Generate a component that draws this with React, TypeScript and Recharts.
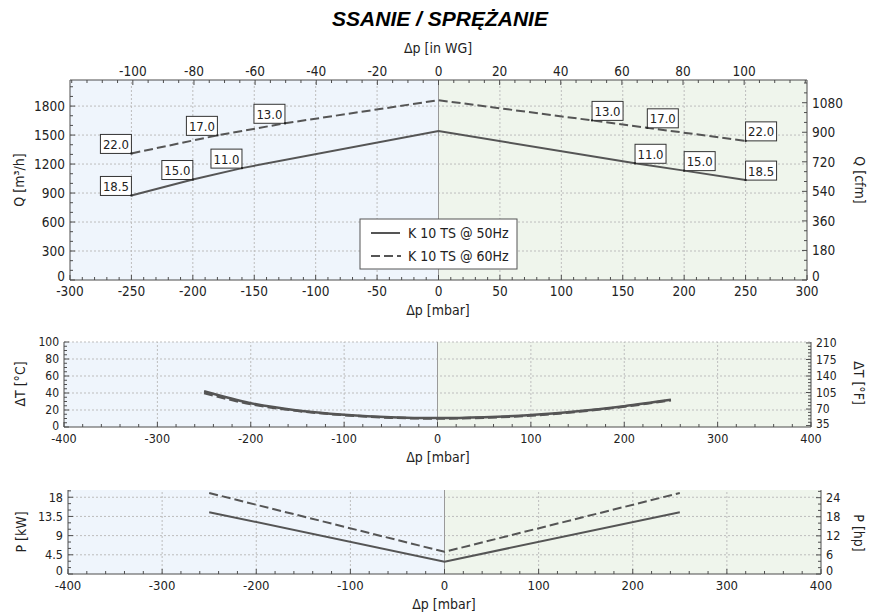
import React from 'react';
import { LineChart, Line, XAxis, YAxis, ReferenceArea, ReferenceLine, LabelList } from 'recharts';

// Q [m3/h] over Δp [mbar]; kw = motor power label
const q50 = [
  { x: -250, q: 875, kw: '18.5' },
  { x: -200, q: 1040, kw: '15.0' },
  { x: -160, q: 1158, kw: '11.0' },
  { x: 0, q: 1541 },
  { x: 160, q: 1208, kw: '11.0' },
  { x: 200, q: 1132, kw: '15.0' },
  { x: 250, q: 1034, kw: '18.5' },
];
const q60 = [
  { x: -250, q: 1310, kw: '22.0' },
  { x: -180, q: 1497, kw: '17.0' },
  { x: -125, q: 1622, kw: '13.0' },
  { x: 0, q: 1861 },
  { x: 125, q: 1652, kw: '13.0' },
  { x: 170, q: 1575, kw: '17.0' },
  { x: 250, q: 1440, kw: '22.0' },
];

// ΔT [°C]
const t50 = [
  { x: -250, t: 42 }, { x: -200, t: 28 }, { x: -150, t: 19.5 }, { x: -100, t: 14.5 },
  { x: -50, t: 11.5 }, { x: 0, t: 10.5 }, { x: 50, t: 11.5 }, { x: 100, t: 14 },
  { x: 150, t: 18.5 }, { x: 200, t: 24.5 }, { x: 250, t: 32 },
];
const t60 = [
  { x: -250, t: 40 }, { x: -200, t: 27 }, { x: -150, t: 19 }, { x: -100, t: 14 },
  { x: -50, t: 11 }, { x: 0, t: 10 }, { x: 50, t: 11 }, { x: 100, t: 13.5 },
  { x: 150, t: 18 }, { x: 200, t: 24 }, { x: 250, t: 31.5 },
];

// P [kW]
const p50 = [{ x: -250, p: 14.5 }, { x: 0, p: 2.9 }, { x: 250, p: 14.5 }];
const p60 = [{ x: -250, p: 19 }, { x: 0, p: 5.2 }, { x: 250, p: 19 }];

const seriesNames = ['K 10 TS @ 50Hz', 'K 10 TS @ 60Hz'];

// major tick labels
const mbarMajor = [-300, -250, -200, -150, -100, -50, 0, 50, 100, 150, 200, 250, 300];
const wgMajor = [-100, -80, -60, -40, -20, 0, 20, 40, 60, 80, 100];
const qMajor = [0, 300, 600, 900, 1200, 1500, 1800];
const cfmMajor = [0, 180, 360, 540, 720, 900, 1080];
const wideMajor = [-400, -300, -200, -100, 0, 100, 200, 300, 400];
const tMajor = [0, 20, 40, 60, 80, 100];
const fMajor = [35, 70, 105, 140, 175, 210];
const pMajor = [0, 4.5, 9, 13.5, 18];
const hpMajor = [0, 6, 12, 18, 24];

const MBAR_PER_INWG = 2.4884;
const M3H_PER_CFM = 1.699;
const KW_PER_HP = 0.7457;
const Q_MAX = 2070;
const P_MAX = 19.7;

const FONT = "'DejaVu Sans Condensed', 'DejaVu Sans', sans-serif";
const AXIS = '#4d4d4d';
const LINE = '#555';
const GRID = '#bdbdbd';
const BLUE = '#eff5fc';
const GREEN = '#eff5ec';

const steps = (lo: number, hi: number, step: number) => {
  const out: number[] = [];
  for (let i = 0; lo + i * step <= hi + 1e-9; i++) out.push(Math.round((lo + i * step) * 1000) / 1000);
  return out;
};

// inward tick marks, labels only on major values
const axisTick = (side: string, major: number[], fs: number, lowDy = 1) =>
  (props: any) => {
    const { x, y, payload } = props;
    const v = payload.value;
    const isMajor = major.some((m) => Math.abs(m - v) < 1e-6);
    const len = isMajor ? 5 : 3;
    // lowest y label sits a little higher, clear of the x labels below it
    const dy = Math.abs(v - major[0]) < 1e-6 ? lowDy : fs * 0.36;
    let tl: any;
    let tx: any = null;
    const ts = { fontSize: fs, fontFamily: FONT, fill: '#222' };
    if (side === 'bottom') {
      tl = <line x1={x} y1={y} x2={x} y2={y - len} stroke={AXIS} />;
      if (isMajor) tx = <text x={x} y={y + 16} textAnchor="middle" {...ts}>{v}</text>;
    } else if (side === 'top') {
      tl = <line x1={x} y1={y} x2={x} y2={y + len} stroke={AXIS} />;
      if (isMajor) tx = <text x={x} y={y - 4.5} textAnchor="middle" {...ts}>{v}</text>;
    } else if (side === 'left') {
      tl = <line x1={x} y1={y} x2={x + len} y2={y} stroke={AXIS} />;
      if (isMajor) tx = <text x={x - 5} y={y + dy} textAnchor="end" {...ts}>{v}</text>;
    } else {
      tl = <line x1={x} y1={y} x2={x - len} y2={y} stroke={AXIS} />;
      if (isMajor) tx = <text x={x + 5} y={y + dy} textAnchor="start" {...ts}>{v}</text>;
    }
    return <g>{tl}{tx}</g>;
  };

const axisBase = {
  tickLine: false,
  tickSize: 0,
  tickMargin: 0,
  interval: 0 as const,
  axisLine: { stroke: AXIS },
  allowDataOverflow: true,
};

const kwLabel = (data: any[]) => (props: any) => {
  const { index, value } = props;
  if (value == null || value === '') return null;
  const px = props.viewBox?.x ?? props.x;
  const py = props.viewBox?.y ?? props.y;
  const left = data[index].x < 0;
  const bx = left ? px - 31 : px;
  return (
    <g>
      <rect x={bx} y={py - 19} width={31} height={19} fill="#fff" stroke="#333" />
      <text x={bx + 15.5} y={py - 4.5} textAnchor="middle" fontSize={13} fontFamily={FONT} fill="#222">
        {value}
      </text>
      <rect x={px - 1} y={py - 1} width={2} height={2} fill="#222" />
    </g>
  );
};

const gridLines = (xs: number[], ys: number[]) => [
  ...xs.map((v) => (
    <ReferenceLine key={'gx' + v} xAxisId="x" yAxisId="y" x={v} stroke={GRID} strokeDasharray="2 2" />
  )),
  ...ys.map((v) => (
    <ReferenceLine key={'gy' + v} xAxisId="x" yAxisId="y" y={v} stroke={GRID} strokeDasharray="2 2" />
  )),
];

const halves = (lo: number, hi: number) => [
  <ReferenceArea key="a1" xAxisId="x" yAxisId="y" x1={lo} x2={0} fill={BLUE} fillOpacity={1} stroke="none" />,
  <ReferenceArea key="a2" xAxisId="x" yAxisId="y" x1={0} x2={hi} fill={GREEN} fillOpacity={1} stroke="none" />,
];

// same flow series expressed on the in-WG axis, only to give that axis a series
const q50wg = q50.map((d) => ({ ...d, x: d.x / MBAR_PER_INWG }));

const FlowChart = () => (
  <LineChart width={871} height={320} margin={{ top: 50, right: 24, bottom: 10, left: 30 }}>
    <XAxis xAxisId="x" type="number" dataKey="x" domain={[-300, 300]} ticks={steps(-300, 300, 10)}
      height={30} tick={axisTick('bottom', mbarMajor, 13.5)} {...axisBase} />
    <XAxis xAxisId="wg" orientation="top" type="number" dataKey="x"
      domain={[-300 / MBAR_PER_INWG, 300 / MBAR_PER_INWG]}
      ticks={steps(-120, 120, 5)} height={30} tick={axisTick('top', wgMajor, 13.5)} {...axisBase} />
    <YAxis yAxisId="y" type="number" domain={[0, Q_MAX]} ticks={steps(0, 2000, 100)} width={40}
      tick={axisTick('left', qMajor, 13.5, 0.5)} {...axisBase} />
    <YAxis yAxisId="cfm" orientation="right" type="number" domain={[0, Q_MAX / M3H_PER_CFM]}
      ticks={steps(0, 1200, 60)} width={40} tick={axisTick('right', cfmMajor, 13.5, 0.5)} {...axisBase} />
    {halves(-300, 300)}
    {gridLines(mbarMajor.filter((v) => v !== 0 && Math.abs(v) !== 300), qMajor.filter((v) => v > 0))}
    <ReferenceLine xAxisId="x" yAxisId="y" x={0} stroke="#9a9a9a" />
    <Line xAxisId="wg" yAxisId="y" data={q50wg} dataKey="q" stroke="none" strokeOpacity={0} dot={false}
      activeDot={false} legendType="none" isAnimationActive={false} />
    <Line xAxisId="x" yAxisId="y" data={q50} dataKey="q" name={seriesNames[0]} stroke={LINE} strokeWidth={2}
      dot={false} isAnimationActive={false}>
      <LabelList dataKey="kw" content={kwLabel(q50)} />
    </Line>
    <Line xAxisId="x" yAxisId="y" data={q60} dataKey="q" name={seriesNames[1]} stroke={LINE} strokeWidth={2}
      strokeDasharray="9 4" dot={false} isAnimationActive={false}>
      <LabelList dataKey="kw" content={kwLabel(q60)} />
    </Line>
  </LineChart>
);

const TempChart = () => (
  <LineChart width={871} height={170} margin={{ top: 42, right: 20, bottom: 13, left: 24 }}>
    <XAxis xAxisId="x" type="number" dataKey="x" domain={[-400, 400]} ticks={steps(-400, 400, 20)}
      height={30} tick={axisTick('bottom', wideMajor, 12.5)} {...axisBase} />
    <YAxis yAxisId="y" type="number" domain={[0, 100]} ticks={steps(0, 100, 5)} width={40}
      tick={axisTick('left', tMajor, 12, 2.5)} {...axisBase} />
    <YAxis yAxisId="f" orientation="right" type="number" domain={[32, 212]} ticks={steps(35, 210, 7)}
      width={40} tick={axisTick('right', fMajor, 12, 2.5)} {...axisBase} />
    {halves(-400, 400)}
    {gridLines(wideMajor.filter((v) => v !== 0 && Math.abs(v) !== 400), tMajor.filter((v) => v > 0))}
    <ReferenceLine xAxisId="x" yAxisId="y" x={0} stroke="#9a9a9a" />
    <Line xAxisId="x" yAxisId="y" data={t50} dataKey="t" name={seriesNames[0]} type="monotone" stroke={LINE}
      strokeWidth={2.5} dot={false} isAnimationActive={false} />
    <Line xAxisId="x" yAxisId="y" data={t60} dataKey="t" name={seriesNames[1]} type="monotone" stroke={LINE}
      strokeWidth={2.5} strokeDasharray="9 4" dot={false} isAnimationActive={false} />
  </LineChart>
);

const PowerChart = () => (
  <LineChart width={871} height={154} margin={{ top: 30, right: 10, bottom: 10, left: 28 }}>
    <XAxis xAxisId="x" type="number" dataKey="x" domain={[-400, 400]} ticks={steps(-400, 400, 20)}
      height={30} tick={axisTick('bottom', wideMajor, 13)} {...axisBase} />
    <YAxis yAxisId="y" type="number" domain={[0, P_MAX]} ticks={steps(0, 19.5, 1.5)} width={40}
      tick={axisTick('left', pMajor, 12.5, 1)} {...axisBase} />
    <YAxis yAxisId="hp" orientation="right" type="number" domain={[0, P_MAX / KW_PER_HP]} ticks={steps(0, 26, 2)}
      width={40} tick={axisTick('right', hpMajor, 12.5, 1)} {...axisBase} />
    {halves(-400, 400)}
    {gridLines(wideMajor.filter((v) => v !== 0 && Math.abs(v) !== 400), pMajor.filter((v) => v > 0))}
    <ReferenceLine xAxisId="x" yAxisId="y" x={0} stroke="#9a9a9a" />
    <Line xAxisId="x" yAxisId="y" data={p50} dataKey="p" name={seriesNames[0]} stroke={LINE} strokeWidth={2}
      dot={false} isAnimationActive={false} />
    <Line xAxisId="x" yAxisId="y" data={p60} dataKey="p" name={seriesNames[1]} stroke={LINE} strokeWidth={2}
      strokeDasharray="9 4" dot={false} isAnimationActive={false} />
  </LineChart>
);

const T = { fontFamily: FONT, fontSize: 14, fill: '#222' };

const Overlay = () => (
  <svg width={871} height={614} style={{ position: 'absolute', left: 0, top: 0, pointerEvents: 'none' }}>
    <text x={440} y={26} textAnchor="middle" fontFamily="'Liberation Sans', Arial, sans-serif" fontSize={21}
      fontWeight="bold" fontStyle="italic" fill="#000">SSANIE / SPRĘŻANIE</text>
    <text x={438} y={53} textAnchor="middle" {...T}>Δp [in WG]</text>
    <text x={438} y={315} textAnchor="middle" {...T}>Δp [mbar]</text>
    <text x={438} y={462} textAnchor="middle" {...T}>Δp [mbar]</text>
    <text x={444} y={609} textAnchor="middle" {...T}>Δp [mbar]</text>
    <text x={19} y={180} textAnchor="middle" dominantBaseline="central" transform="rotate(-90 19 180)" {...T}>Q [m³/h]</text>
    <text x={860} y={180} textAnchor="middle" dominantBaseline="central" transform="rotate(90 860 180)" {...T}>Q [cfm]</text>
    <text x={20} y={384} textAnchor="middle" dominantBaseline="central" transform="rotate(-90 20 384)" {...T}>ΔT [°C]</text>
    <text x={859} y={383} textAnchor="middle" dominantBaseline="central" transform="rotate(90 859 383)" {...T}>ΔT [°F]</text>
    <text x={21} y={532} textAnchor="middle" dominantBaseline="central" transform="rotate(-90 21 532)" {...T}>P [kW]</text>
    <text x={859} y={533} textAnchor="middle" dominantBaseline="central" transform="rotate(90 859 533)" {...T}>P [hp]</text>
    {/* legend */}
    <rect x={360} y={219} width={157} height={50} fill="#fff" stroke="#555" />
    <line x1={371} y1={233} x2={400} y2={233} stroke={LINE} strokeWidth={2} />
    <text x={408} y={238} {...T}>{seriesNames[0]}</text>
    <line x1={371} y1={256} x2={401} y2={256} stroke={LINE} strokeWidth={2} strokeDasharray="9 4" />
    <text x={408} y={261} {...T}>{seriesNames[1]}</text>
  </svg>
);

export default function App() {
  return (
    <div style={{ position: 'absolute', left: 0, top: 0, width: 871, height: 614, background: '#fff' }}>
      <div style={{ position: 'absolute', left: 0, top: 0 }}><FlowChart /></div>
      <div style={{ position: 'absolute', left: 0, top: 300 }}><TempChart /></div>
      <div style={{ position: 'absolute', left: 0, top: 460 }}><PowerChart /></div>
      <Overlay />
    </div>
  );
}
